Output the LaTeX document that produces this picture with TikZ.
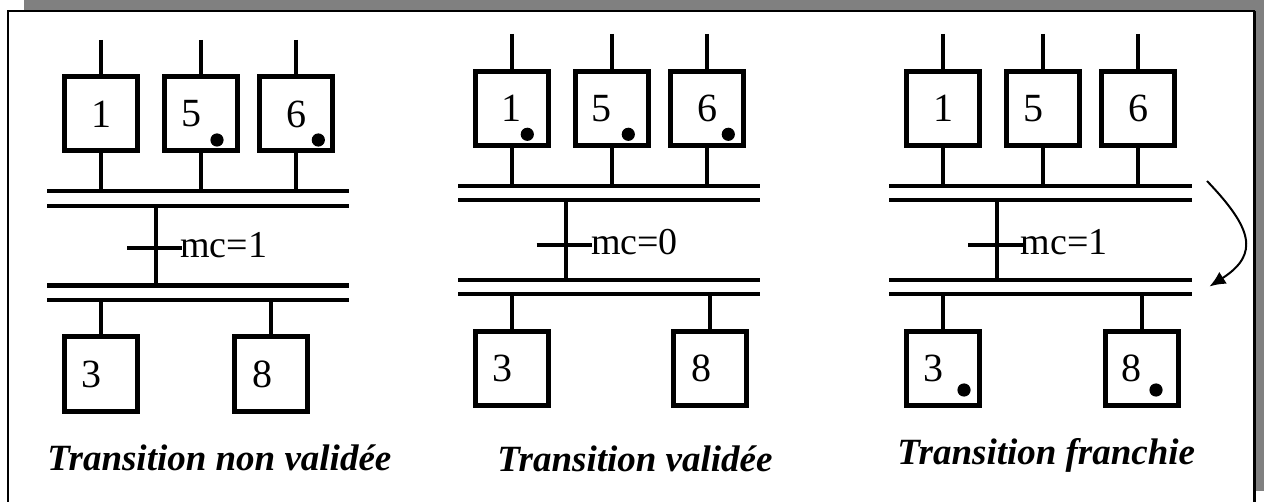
\documentclass[tikz,border=0pt]{standalone}
\usepackage{fontspec}
\setmainfont{Liberation Serif}
\usetikzlibrary{arrows.meta}
\definecolor{shadowgray}{HTML}{808080}
\tikzset{
  stepbox/.style={draw, line width=2.5pt, minimum width=36.5pt, minimum height=37pt, inner sep=0pt, outer sep=0pt},
  num/.style={font=\fontsize{20pt}{22pt}\selectfont, inner sep=0pt},
  link/.style={line width=1.9pt},
  bar/.style={line width=2.1pt},
  cond/.style={font=\fontsize{19pt}{21pt}\selectfont, anchor=base west, inner sep=0pt},
  caption/.style={font=\fontsize{18.5pt}{20pt}\selectfont\bfseries\itshape, anchor=base west, inner sep=0pt},
  flowarrow/.style={line width=1pt, -{Latex[length=8pt,width=7pt]}},
}
\begin{document}
\begin{tikzpicture}[x=0.5pt,y=-0.5pt]
\useasboundingbox (0,0) rectangle (1264,502);
\clip (0,0) rectangle (1264,502);
% frame with shadow
\fill[shadowgray] (24,0) rectangle (1264,491);
\fill[white] (8,11.5) rectangle (1254.5,510);
\draw[line width=1pt] (8,510) -- (8,11.5) -- (1254.5,11.5);
\draw[line width=1.5pt] (1254.5,11) -- (1254.5,510);

% ===== Panel 1 =====
\node[stepbox] (p1s1) at (101,114) {};
\node[stepbox] (p1s5) at (201,114) {};
\node[stepbox] (p1s6) at (296,114) {};
\node[num] (p1n1) at (p1s1.center) {1};
\node[num] (p1n5) at ([xshift=-5pt]p1s5.center) {5};
\node[num] (p1n6) at (p1s6.center) {6};
\coordinate (p1i1) at (101,40);
\coordinate (p1i5) at (201,40);
\coordinate (p1i6) at (296,40);
\draw[link] (p1i1) -- (p1s1.north);
\draw[link] (p1i5) -- (p1s5.north);
\draw[link] (p1i6) -- (p1s6.north);
\coordinate (p1b1l) at (47,191); \coordinate (p1b1r) at (349,191);
\coordinate (p1b2l) at (47,206); \coordinate (p1b2r) at (349,206);
\coordinate (p1b3l) at (47,285.5); \coordinate (p1b3r) at (349,285.5);
\coordinate (p1b4l) at (47,300); \coordinate (p1b4r) at (349,300);
\draw[bar] (p1b1l) -- (p1b1r);
\draw[bar] (p1b2l) -- (p1b2r);
\draw[bar] (p1b3l) -- (p1b3r);
\draw[bar] (p1b4l) -- (p1b4r);
\draw[link] (p1s1.south) -- (p1s1.south |- p1b1l);
\draw[link] (p1s5.south) -- (p1s5.south |- p1b1l);
\draw[link] (p1s6.south) -- (p1s6.south |- p1b1l);
\coordinate (p1t) at (156,248);
\draw[link] (p1t |- p1b2l) -- (p1t |- p1b3l);
\draw[bar] ([xshift=-14.5pt]p1t) -- ([xshift=13pt]p1t);
\node[cond] (p1c) at ([xshift=12pt,yshift=-5pt]p1t) {mc=1};
\node[stepbox] (p1s3) at (101,374) {};
\node[stepbox] (p1s8) at (271,374) {};
\node[num] (p1n3) at ([xshift=-5pt]p1s3.center) {3};
\node[num] (p1n8) at ([xshift=-4.5pt]p1s8.center) {8};
\draw[link] (p1s3.north |- p1b4l) -- (p1s3.north);
\draw[link] (p1s8.north |- p1b4l) -- (p1s8.north);
\fill (217,140) circle (3.3pt);
\fill (318.3,140) circle (3.3pt);
\node[caption] (p1cap) at (47,470) {Transition non validée};

% ===== Panel 2 =====
\node[stepbox] (p2s1) at (511.7,108.3) {};
\node[stepbox] (p2s5) at (611.7,108.3) {};
\node[stepbox] (p2s6) at (707,108.3) {};
\node[num] (p2n1) at (p2s1.center) {1};
\node[num] (p2n5) at ([xshift=-5pt]p2s5.center) {5};
\node[num] (p2n6) at (p2s6.center) {6};
\coordinate (p2i1) at (511.7,34);
\coordinate (p2i5) at (611.7,34);
\coordinate (p2i6) at (707,34);
\draw[link] (p2i1) -- (p2s1.north);
\draw[link] (p2i5) -- (p2s5.north);
\draw[link] (p2i6) -- (p2s6.north);
\coordinate (p2b1l) at (458,185.7); \coordinate (p2b1r) at (760,185.7);
\coordinate (p2b2l) at (458,200); \coordinate (p2b2r) at (760,200);
\coordinate (p2b3l) at (458,280); \coordinate (p2b3r) at (760,280);
\coordinate (p2b4l) at (458,294); \coordinate (p2b4r) at (760,294);
\draw[bar] (p2b1l) -- (p2b1r);
\draw[bar] (p2b2l) -- (p2b2r);
\draw[bar] (p2b3l) -- (p2b3r);
\draw[bar] (p2b4l) -- (p2b4r);
\draw[link] (p2s1.south) -- (p2s1.south |- p2b1l);
\draw[link] (p2s5.south) -- (p2s5.south |- p2b1l);
\draw[link] (p2s6.south) -- (p2s6.south |- p2b1l);
\coordinate (p2t) at (565.7,245);
\draw[link] (p2t |- p2b2l) -- (p2t |- p2b3l);
\draw[bar] ([xshift=-14.5pt]p2t) -- ([xshift=13pt]p2t);
\node[cond] (p2c) at ([xshift=12.5pt,yshift=-5pt]p2t) {mc=0};
\node[stepbox] (p2s3) at (511.7,368.5) {};
\node[stepbox] (p2s8) at (710,368.5) {};
\node[num] (p2n3) at ([xshift=-4.5pt]p2s3.center) {3};
\node[num] (p2n8) at ([xshift=-4.5pt]p2s8.center) {8};
\draw[link] (p2s3.north |- p2b4l) -- (p2s3.north);
\draw[link] (p2s8.north |- p2b4l) -- (p2s8.north);
\fill (527.3,134.3) circle (3.3pt);
\fill (628.3,134.3) circle (3.3pt);
\fill (728.3,134.3) circle (3.3pt);
\node[caption] (p2cap) at (497,471) {Transition validée};

% ===== Panel 3 =====
\node[stepbox] (p3s1) at (943.3,108.3) {};
\node[stepbox] (p3s5) at (1043.3,108.3) {};
\node[stepbox] (p3s6) at (1138.3,108.3) {};
\node[num] (p3n1) at (p3s1.center) {1};
\node[num] (p3n5) at ([xshift=-5pt]p3s5.center) {5};
\node[num] (p3n6) at (p3s6.center) {6};
\coordinate (p3i1) at (943.3,34);
\coordinate (p3i5) at (1043.3,34);
\coordinate (p3i6) at (1138.3,34);
\draw[link] (p3i1) -- (p3s1.north);
\draw[link] (p3i5) -- (p3s5.north);
\draw[link] (p3i6) -- (p3s6.north);
\coordinate (p3b1l) at (889.3,185.7); \coordinate (p3b1r) at (1191.7,185.7);
\coordinate (p3b2l) at (889.3,200); \coordinate (p3b2r) at (1191.7,200);
\coordinate (p3b3l) at (889.3,280); \coordinate (p3b3r) at (1191.7,280);
\coordinate (p3b4l) at (889.3,294); \coordinate (p3b4r) at (1191.7,294);
\draw[bar] (p3b1l) -- (p3b1r);
\draw[bar] (p3b2l) -- (p3b2r);
\draw[bar] (p3b3l) -- (p3b3r);
\draw[bar] (p3b4l) -- (p3b4r);
\draw[link] (p3s1.south) -- (p3s1.south |- p3b1l);
\draw[link] (p3s5.south) -- (p3s5.south |- p3b1l);
\draw[link] (p3s6.south) -- (p3s6.south |- p3b1l);
\coordinate (p3t) at (997.3,245);
\draw[link] (p3t |- p3b2l) -- (p3t |- p3b3l);
\draw[bar] ([xshift=-14.5pt]p3t) -- ([xshift=13pt]p3t);
\node[cond] (p3c) at ([xshift=11.5pt,yshift=-5pt]p3t) {mc=1};
\node[stepbox] (p3s3) at (943.3,368.5) {};
\node[stepbox] (p3s8) at (1141.7,368.5) {};
\node[num] (p3n3) at ([xshift=-5pt]p3s3.center) {3};
\node[num] (p3n8) at ([xshift=-5pt]p3s8.center) {8};
\draw[link] (p3s3.north |- p3b4l) -- (p3s3.north);
\draw[link] (p3s8.north |- p3b4l) -- (p3s8.north);
\fill (964,390) circle (3.3pt);
\fill (1156,390) circle (3.3pt);
\node[caption] (p3cap) at (897,464) {Transition franchie};

% firing arrow
\coordinate (arrS) at (1207,181);
\coordinate (arrE) at (1209.5,286.5);
\draw[flowarrow] (arrS) .. controls (1252,228) and (1260,254) .. (arrE);
\end{tikzpicture}
\end{document}
